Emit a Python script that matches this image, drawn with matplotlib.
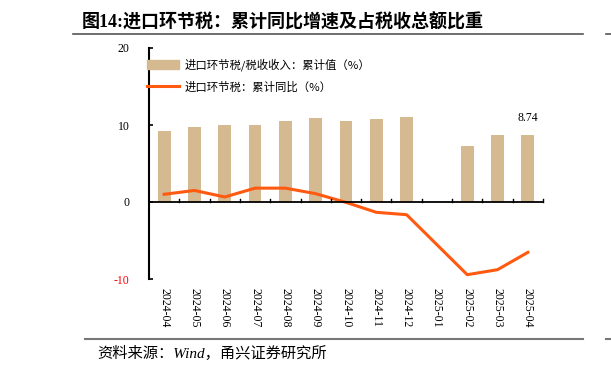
import numpy as np
import matplotlib.pyplot as plt
from matplotlib.lines import Line2D

plt.rcParams['font.family'] = ['Liberation Serif', 'Noto Sans CJK SC']

months = ['2024-04', '2024-05', '2024-06', '2024-07', '2024-08', '2024-09',
          '2024-10', '2024-11', '2024-12', '2025-01', '2025-02', '2025-03', '2025-04']
share = [9.26, 9.7, 10.0, 9.96, 10.5, 10.95, 10.56, 10.78, 11.08, np.nan, 7.3, 8.65, 8.74]
growth = [1.0, 1.5, 0.65, 1.8, 1.8, 1.08, -0.05, -1.34, -1.65, np.nan, -9.44, -8.79, -6.54]

bar_color = '#D5B990'
line_color = '#FF5A10'

fig = plt.figure(figsize=(6.11, 3.71), dpi=100)
ax = fig.add_axes([149 / 611, 1 - 279 / 371, (543 - 149) / 611, (279 - 48) / 371])

x = np.arange(len(months))
ax.bar(x, share, width=0.42, color=bar_color, zorder=2)

# 2025-01 没有数据，折线直接连起来
gx = np.array([i for i, v in enumerate(growth) if not np.isnan(v)])
gy = np.array([v for v in growth if not np.isnan(v)])
ax.plot(gx, gy, color=line_color, lw=2.2, zorder=3)

ax.annotate('8.74', (12, share[-1]), xytext=(0, 8), textcoords='offset points',
            ha='center', va='bottom', fontsize=8.5)

ax.set_xlim(-0.5, 12.5)
ax.set_ylim(-10, 20)
ax.set_yticks([-10, 0, 10, 20])
ax.set_yticklabels(['-10', '0', '10', '20'], fontsize=8.5)
ax.get_yticklabels()[0].set_color('red')
ax.tick_params(axis='y', direction='in', length=3, width=1.2, pad=14)

for s in ['top', 'right', 'bottom']:
    ax.spines[s].set_visible(False)
ax.spines['left'].set_linewidth(1.5)
ax.axhline(0, color='black', lw=1.3, zorder=4)

# 分隔刻度画在零轴上，朝上
ax.set_xticks([])
for b in np.arange(0.5, 13, 1.0):
    ax.plot([b, b], [0, 0.45], color='black', lw=1.0, zorder=4, clip_on=False)

for i, m in enumerate(months):
    ax.text(i, -11.2, m, rotation=-90, ha='center', va='top', fontsize=8.5)

handles = [plt.Rectangle((0, 0), 1, 1, color=bar_color),
           Line2D([0], [0], color=line_color, lw=2.2)]
labels = ['进口环节税/税收收入：累计值（%）', '进口环节税：累计同比（%）']
ax.legend(handles, labels, loc='upper left', frameon=False,
          bbox_to_anchor=(-0.03, 1.0), handlelength=2.8, handleheight=0.8,
          labelspacing=0.9, handletextpad=0.5,
          prop={'family': ['Noto Sans CJK SC'], 'size': 8.2})

fig.text(283 / 611, 1 - 22 / 371, '图14:进口环节税：累计同比增速及占税收总额比重',
         ha='center', va='center', fontsize=13, fontweight='bold',
         family=['Liberation Serif', 'Noto Sans CJK SC'])
fig.add_artist(Line2D([73 / 611, 583 / 611], [1 - 34 / 371] * 2, color='#555555', lw=1.2))
fig.add_artist(Line2D([606 / 611, 611 / 611], [1 - 34 / 371] * 2, color='#555555', lw=1.2))
fig.add_artist(Line2D([85 / 611, 583 / 611], [1 - 339 / 371] * 2, color='#777777', lw=1.5))
fig.add_artist(Line2D([606 / 611, 611 / 611], [1 - 339 / 371] * 2, color='#777777', lw=1.5))
fig.text(97 / 611, 1 - 353 / 371, '资料来源：Wind，甬兴证券研究所', ha='left', va='center',
         fontsize=11, style='italic', family=['Liberation Serif', 'Noto Sans CJK SC'])

fig.savefig('out.png', dpi=100)
